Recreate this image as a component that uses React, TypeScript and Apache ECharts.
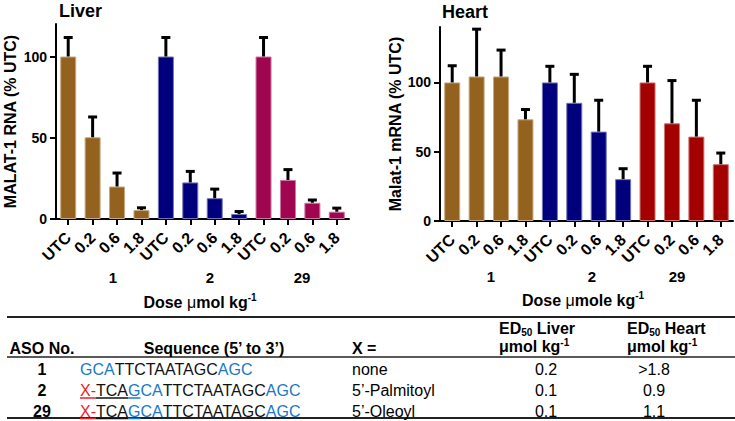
import React, { useEffect, useRef } from 'react';
import * as echarts from 'echarts';

// ---------- chart data ----------
const doseLabels = ['UTC', '0.2', '0.6', '1.8'];
const compounds = ['1', '2', '29'];
const yTicks = [0, 50, 100];

const liverMean = [100, 50.3, 20, 5.5, 100, 22.5, 12.8, 3.1, 100, 24, 10, 4.5];
const liverErr = [12, 12.8, 8.6, 1.7, 12, 7.1, 5.9, 1.8, 12, 6.7, 2, 2.5];
const heartMean = [100, 104.3, 104.3, 73.4, 100, 85.3, 64.5, 30.2, 100, 70.5, 60.9, 41];
const heartErr = [12.4, 34.5, 19.4, 7.4, 12, 20.9, 23, 7.9, 12, 31.2, 26.6, 8.4];

const liverColors = ['#93621f', '#00007d', '#a0064f'];
const heartColors = ['#93621f', '#00007d', '#a30000'];

// ---------- table data ----------
const asoNumbers = ['1', '2', '29'];
const sequences: [string, string][][] = [
  [['GCA', 'b'], ['TTCTAATAGC', 'k'], ['AGC', 'b']],
  [['X-', 'r'], ['TCA', 'k'], ['GCA', 'b'], ['TTCTAATAGC', 'k'], ['AGC', 'b']],
  [['X-', 'r'], ['TCA', 'k'], ['GCA', 'b'], ['TTCTAATAGC', 'k'], ['AGC', 'b']],
];
const underlinedChars = [0, 6, 6];
const xGroups = ['none', '5\u2019-Palmitoyl', '5\u2019-Oleoyl'];
const ed50Liver = ['0.2', '0.1', '0.1'];
const ed50Heart = ['>1.8', '0.9', '1.1'];

const FONT = '"Liberation Sans", Arial, Helvetica, sans-serif';
const seqColors: Record<string, string> = { b: '#1a78c8', k: '#111111', r: '#ee1c24' };

function measure(text: string, font: string) {
  const ctx = document.createElement('canvas').getContext('2d')!;
  ctx.font = font;
  return ctx.measureText(text).width;
}

function lighten(hex: string, f: number) {
  const n = parseInt(hex.slice(1), 16);
  const r = (n >> 16) & 255, g = (n >> 8) & 255, b = n & 255;
  const m = (c: number) => Math.round(c + (255 - c) * f);
  return `rgb(${m(r)},${m(g)},${m(b)})`;
}

const categories = compounds.flatMap((c) => doseLabels.map((d) => `${c}|${d}`));

function barData(mean: number[], colors: string[]) {
  return mean.map((v, i) => {
    const c = colors[Math.floor(i / doseLabels.length)];
    return { value: v, itemStyle: { color: c, borderColor: lighten(c, 0.45), borderWidth: 1 } };
  });
}

function errRender(params: any, api: any) {
  const x = api.value(0);
  const p0 = api.coord([x, api.value(1)]);
  const p1 = api.coord([x, api.value(2)]);
  return {
    type: 'group',
    children: [
      { type: 'line', shape: { x1: p0[0], y1: p0[1], x2: p1[0], y2: p1[1] }, style: { stroke: '#000', lineWidth: 3 } },
      { type: 'line', shape: { x1: p1[0] - 4.5, y1: p1[1] + 0.5, x2: p1[0] + 4.5, y2: p1[1] + 0.5 }, style: { stroke: '#000', lineWidth: 3 } },
    ],
  };
}

function xAxisCfg(gridIndex: number) {
  return {
    gridIndex,
    type: 'category',
    data: categories,
    axisLine: { show: true, lineStyle: { color: '#000', width: 2 } },
    axisTick: { show: true, alignWithLabel: true, length: 6, lineStyle: { color: '#000', width: 2 } },
    axisLabel: {
      interval: 0,
      rotate: 45,
      margin: 16,
      color: '#000',
      fontWeight: 'bold',
      fontSize: 16,
      fontFamily: FONT,
      formatter: (v: string) => v.split('|')[1],
    },
  };
}

function yAxisCfg(gridIndex: number, max: number, name: string, nameGap: number) {
  return {
    gridIndex,
    type: 'value',
    min: 0,
    max,
    name,
    nameLocation: 'middle',
    nameRotate: 90,
    nameGap,
    nameTextStyle: { color: '#000', fontWeight: 'bold', fontSize: 16, fontFamily: FONT },
    axisLine: { show: true, lineStyle: { color: '#000', width: 2 } },
    axisTick: { show: true, customValues: yTicks, length: 6, lineStyle: { color: '#000', width: 2 } },
    axisLabel: { customValues: yTicks, margin: 9, color: '#000', fontWeight: 'bold', fontSize: 14, fontFamily: FONT },
    splitLine: { show: false },
  };
}

function buildGraphics() {
  const els: any[] = [];
  const txt = (x: number, y: number, text: string, opts: any = {}) =>
    els.push({
      type: 'text',
      x,
      y,
      style: {
        text,
        fill: '#000',
        fontFamily: FONT,
        fontSize: 16,
        fontWeight: 'normal',
        align: 'center',
        verticalAlign: 'middle',
        ...opts,
      },
    });

  // titles
  txt(59, 11, 'Liver', { align: 'left', fontWeight: 'bold', fontSize: 18 });
  txt(442, 12, 'Heart', { align: 'left', fontWeight: 'bold', fontSize: 18 });

  // compound group labels
  const liverGroupX = [113, 210, 302];
  const heartGroupX = [491, 592, 677];
  compounds.forEach((c, i) => {
    txt(liverGroupX[i], 277, c, { fontWeight: 'bold', fontSize: 15 });
    txt(heartGroupX[i], 276, c, { fontWeight: 'bold', fontSize: 15 });
  });

  const doseRich = {
    a: { fontWeight: 'bold', fontSize: 16, fontFamily: FONT, fill: '#000', lineHeight: 20 },
    m: { fontWeight: 'normal', fontSize: 16, fontFamily: FONT, fill: '#000', lineHeight: 20 },
    s: { fontWeight: 'bold', fontSize: 10, fontFamily: FONT, fill: '#000', lineHeight: 12, verticalAlign: 'top' },
  };
  txt(200, 302, '{a|Dose }{m|\u03bc}{a|mol kg}{s|-1}', { rich: doseRich });
  txt(583, 300, '{a|Dose }{m|\u03bc}{a|mole kg}{s|-1}', { rich: doseRich });

  // ---- table ----
  const rule = (y: number, w: number) =>
    els.push({ type: 'line', shape: { x1: 7, y1: y, x2: 735, y2: y }, style: { stroke: '#222', lineWidth: w } });
  rule(317, 2);
  rule(357, 1.5);
  rule(418, 2);

  const hb = { fontWeight: 'bold' };
  txt(42, 348, 'ASO No.', hb);
  txt(214, 348, 'Sequence (5\u2019 to 3\u2019)', hb);
  txt(352, 348, 'X =', { ...hb, align: 'left' });

  const edRich = {
    h: { fontWeight: 'bold', fontSize: 16, fontFamily: FONT, fill: '#000', lineHeight: 17.5 },
    sub: { fontWeight: 'bold', fontSize: 10, fontFamily: FONT, fill: '#000', lineHeight: 10, verticalAlign: 'bottom' },
    sup: { fontWeight: 'bold', fontSize: 10, fontFamily: FONT, fill: '#000', lineHeight: 10, verticalAlign: 'top' },
  };
  const edHeaderX = [499, 627];
  ['Liver', 'Heart'].forEach((organ, i) => {
    txt(edHeaderX[i], 328.5, `{h|ED}{sub|50}{h| ${organ}}`, { rich: edRich, align: 'left' });
    txt(edHeaderX[i], 346.5, '{h|\u03bcmol kg}{sup|-1}', { rich: edRich, align: 'left' });
  });
  const edValX = [546, 654];

  const rowY = [369, 390.5, 411];
  const seqFont = `16px ${FONT}`;
  asoNumbers.forEach((n, i) => {
    const y = rowY[i];
    txt(42, y, n, { fontWeight: 'bold' });
    const rich: any = {};
    Object.keys(seqColors).forEach((k) => {
      rich[k] = { fill: seqColors[k], fontSize: 16, fontFamily: FONT };
    });
    txt(80, y, sequences[i].map(([s, k]) => `{${k}|${s}}`).join(''), { align: 'left', rich });
    // underline
    let remaining = underlinedChars[i];
    let x = 80;
    for (const [s, k] of sequences[i]) {
      if (remaining <= 0) break;
      const part = s.slice(0, remaining);
      const w = measure(part, seqFont);
      els.push({
        type: 'line',
        shape: { x1: x, y1: y + 7.5, x2: x + w, y2: y + 7.5 },
        style: { stroke: seqColors[k], lineWidth: 1.5 },
      });
      x += w;
      remaining -= part.length;
    }
    txt(352, y, xGroups[i], { align: 'left' });
    txt(edValX[0], y, ed50Liver[i]);
    txt(edValX[1], y, ed50Heart[i]);
  });

  return els;
}

export default function App() {
  const ref = useRef<HTMLDivElement>(null);
  useEffect(() => {
    const chart = echarts.init(ref.current!, null, { renderer: 'svg', width: 735, height: 421 });
    const option: any = {
      animation: false,
      backgroundColor: '#ffffff',
      textStyle: { fontFamily: FONT },
      grid: [
        { left: 56, top: 24, width: 293, height: 195 },
        { left: 440, top: 27, width: 293, height: 194 },
      ],
      xAxis: [xAxisCfg(0), xAxisCfg(1)],
      yAxis: [
        yAxisCfg(0, 120, 'MALAT-1 RNA (% UTC)', 38),
        yAxisCfg(1, 140, 'Malat-1 mRNA (% UTC)', 31),
      ],
      series: [
        { type: 'bar', xAxisIndex: 0, yAxisIndex: 0, barWidth: 16, data: barData(liverMean, liverColors), z: 2 },
        {
          type: 'custom',
          xAxisIndex: 0,
          yAxisIndex: 0,
          z: 3,
          renderItem: errRender,
          data: liverMean.map((v, i) => [i, v, v + liverErr[i]]),
        },
        { type: 'bar', xAxisIndex: 1, yAxisIndex: 1, barWidth: 16, data: barData(heartMean, heartColors), z: 2 },
        {
          type: 'custom',
          xAxisIndex: 1,
          yAxisIndex: 1,
          z: 3,
          renderItem: errRender,
          data: heartMean.map((v, i) => [i, v, v + heartErr[i]]),
        },
      ],
      graphic: buildGraphics(),
    };
    chart.setOption(option);
    return () => chart.dispose();
  }, []);
  return <div ref={ref} style={{ position: 'absolute', left: 0, top: 0, width: 735, height: 421 }} />;
}
